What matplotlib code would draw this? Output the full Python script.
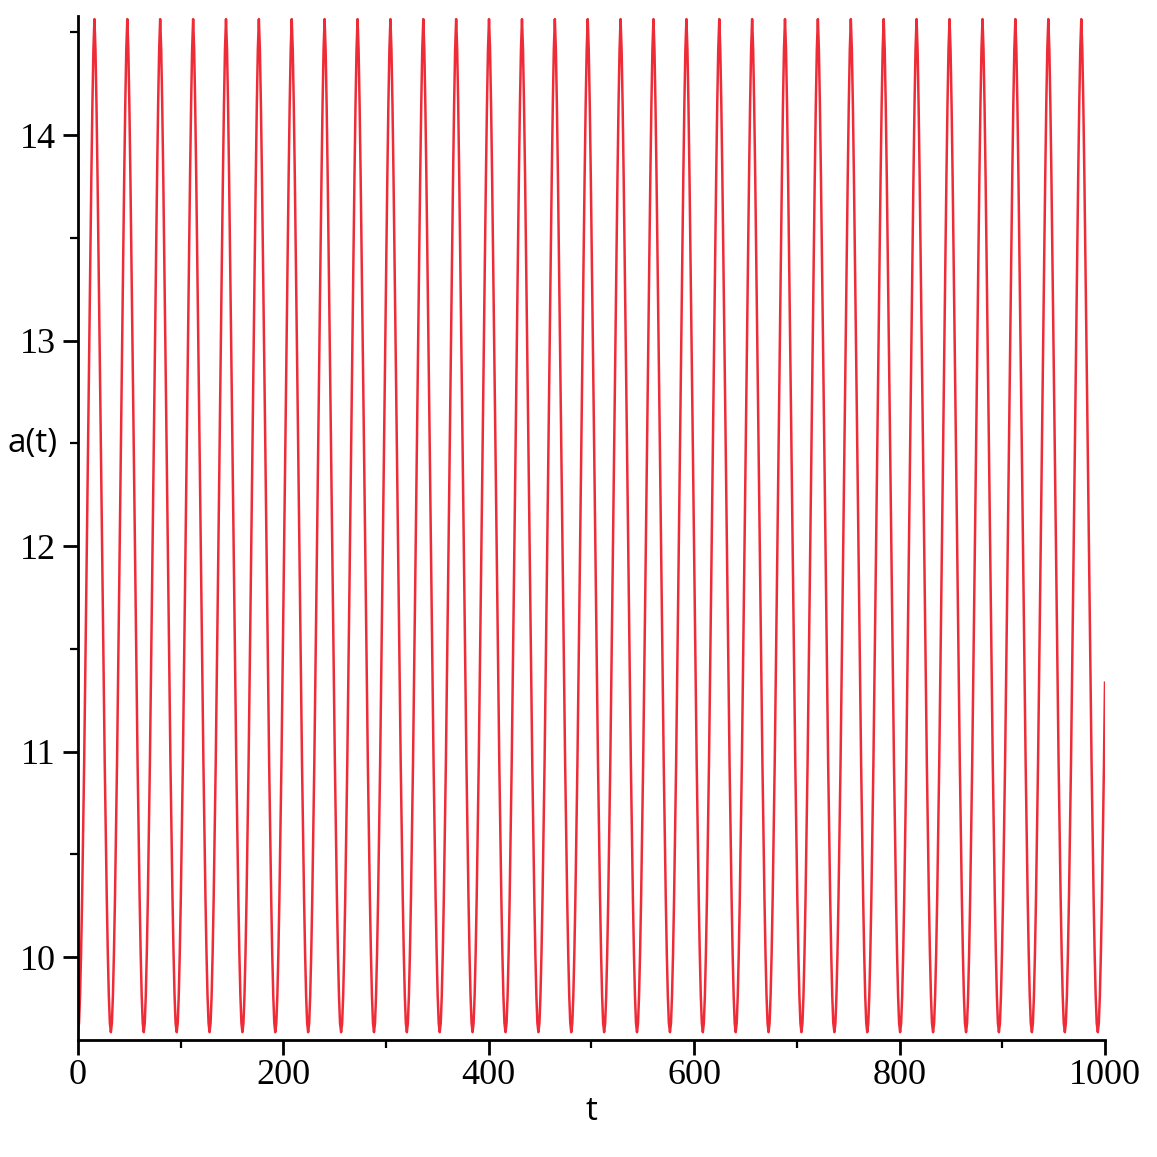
import numpy as np
import matplotlib
matplotlib.use("Agg")
import matplotlib.pyplot as plt

# Zeitpunkte der Minima von a(t)
t_min = [0.0, 32.0, 64.0, 96.1, 128.1, 160.1, 192.1, 224.1, 256.2, 288.2,
         320.2, 352.2, 384.2, 416.3, 448.3, 480.3, 512.3, 544.3, 576.4, 608.4,
         640.4, 672.4, 704.4, 736.5, 768.5, 800.5, 832.6, 864.7, 896.7, 928.8,
         960.9, 993.0]
periode = 32.02

# Extremwerte
a_min = 9.635
a_max = 14.565

# Form eines halben Zyklus (Minimum -> Maximum), Anteil der Amplitude
halb_phase = [0.0, 0.0625, 0.125, 0.1875, 0.25, 0.3125, 0.375, 0.4375, 0.5,
              0.5625, 0.625, 0.6875, 0.75, 0.8125, 0.875, 0.9375, 1.0]
halb_anteil = [0.000, 0.009, 0.036, 0.078, 0.132, 0.196, 0.266, 0.345, 0.430,
               0.515, 0.600, 0.685, 0.765, 0.845, 0.915, 0.970, 1.000]

# Achsen
x_ticks = [0, 200, 400, 600, 800, 1000]
x_minor = [100, 300, 500, 700, 900]
y_ticks = [10, 11, 12, 13, 14]
y_minor = [10.5, 11.5, 12.5, 13.5, 14.5]

# ganzer Zyklus: steigender Ast + gespiegelter fallender Ast
ph = np.array(halb_phase) / 2.0
fr = np.array(halb_anteil)
zyk_phase = np.concatenate([ph, 1.0 - ph[::-1][1:]])
zyk_anteil = np.concatenate([fr, fr[::-1][1:]])

t = []
a = []
for t0 in t_min:
    t.extend(t0 + zyk_phase[:-1] * periode)
    a.extend(a_min + zyk_anteil[:-1] * (a_max - a_min))
t = np.array(t)
a = np.array(a)

fig = plt.figure(figsize=(11.57, 11.57), dpi=100)
ax = fig.add_axes([78 / 1157, 117 / 1157, 1027 / 1157, 1024 / 1157])

ax.plot(t, a, color='#ee2c38', lw=1.8)

ax.set_xlim(0, 1000)
ax.set_ylim(9.597, 14.58)

ax.spines['top'].set_visible(False)
ax.spines['right'].set_visible(False)
ax.spines['left'].set_linewidth(2.0)
ax.spines['bottom'].set_linewidth(2.0)

ax.set_xticks(x_ticks)
ax.set_xticks(x_minor, minor=True)
ax.set_yticks(y_ticks)
ax.set_yticks(y_minor, minor=True)
ax.set_xticklabels([str(v) for v in x_ticks], family='Liberation Serif', fontsize=26)
ax.set_yticklabels([str(v) for v in y_ticks], family='Liberation Serif', fontsize=26)
ax.tick_params(which='major', direction='out', length=11, width=2.0, pad=5)
ax.tick_params(which='minor', direction='out', length=6, width=1.6)
ax.tick_params(axis='x', which='major', pad=3)

ax.set_xlabel('t', family='Open Sans', fontsize=24, va='center')
ax.xaxis.set_label_coords(0.5, -0.07)
ax.set_ylabel('a(t)', family='Open Sans', fontsize=24, rotation=0, ha='center', va='center')
ax.yaxis.set_label_coords(-0.0438, (12.5 - 9.597) / (14.58 - 9.597))

plt.savefig('out.png', dpi=100)
